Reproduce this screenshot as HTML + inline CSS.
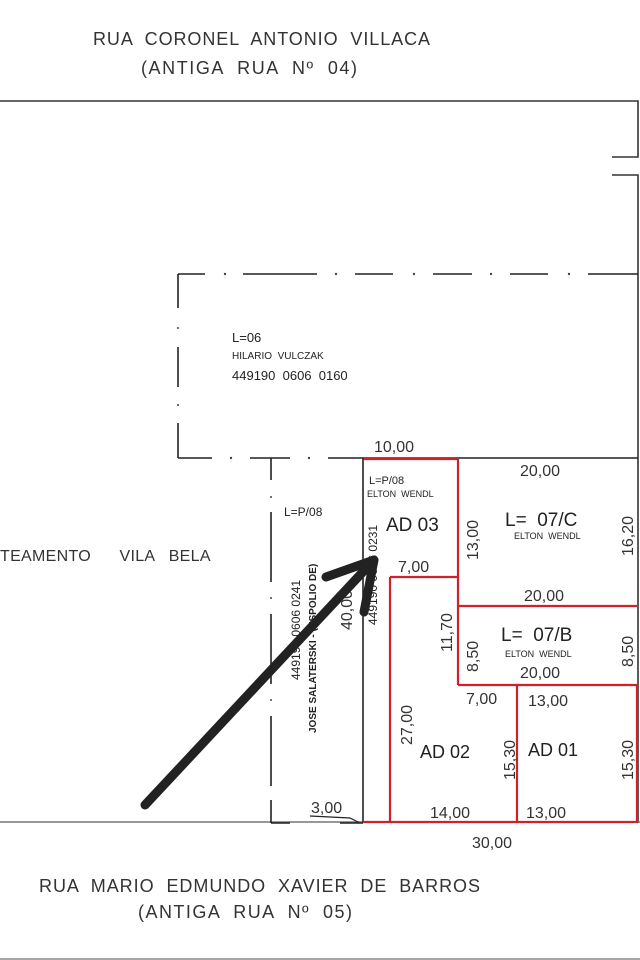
<!DOCTYPE html>
<html><head><meta charset="utf-8"><style>
html,body{margin:0;padding:0;background:#fff;width:640px;height:960px;overflow:hidden}
svg{display:block}
text{font-family:"Liberation Sans",sans-serif;fill:#222;white-space:pre}
.t{fill:#333}
</style></head><body>
<svg width="640" height="960" viewBox="0 0 640 960" xmlns="http://www.w3.org/2000/svg" xml:space="preserve">
<text x="93" y="45" font-size="18" class="t" textLength="337" lengthAdjust="spacing">RUA  CORONEL  ANTONIO  VILLACA</text>
<text x="141" y="74" font-size="18" class="t" textLength="216" lengthAdjust="spacing">(ANTIGA  RUA  Nº  04)</text>
<text x="39" y="892" font-size="18" class="t" textLength="441" lengthAdjust="spacing">RUA  MARIO  EDMUNDO  XAVIER  DE  BARROS</text>
<text x="138" y="918" font-size="18" class="t" textLength="214" lengthAdjust="spacing">(ANTIGA  RUA  Nº  05)</text>

<g stroke="#333" stroke-width="1.6" fill="none">
<polyline points="0,101 638,101 638,157 612,157"/>
<polyline points="612,175 638,175 638,823"/>
<line x1="0" y1="822" x2="640" y2="822" stroke="#777"/>
<line x1="0" y1="959" x2="640" y2="959" stroke="#888"/>
</g>
<g stroke="#222" stroke-width="1.6" fill="none">
<line x1="178" y1="274" x2="205" y2="274"/>
<line x1="243" y1="274" x2="317" y2="274"/>
<line x1="355" y1="274" x2="393" y2="274"/>
<line x1="433" y1="274" x2="472" y2="274"/>
<line x1="510" y1="274" x2="548" y2="274"/>
<line x1="588" y1="274" x2="638" y2="274"/>
<line x1="178" y1="274" x2="178" y2="308"/>
<line x1="178" y1="347" x2="178" y2="387"/>
<line x1="178" y1="423" x2="178" y2="458"/>
<line x1="178" y1="458" x2="212" y2="458"/>
<line x1="250" y1="458" x2="290" y2="458"/>
<line x1="328" y1="458" x2="638" y2="458"/>
<line x1="271" y1="458" x2="271" y2="480"/>
<line x1="271" y1="512" x2="271" y2="582"/>
<line x1="271" y1="614" x2="271" y2="684"/>
<line x1="271" y1="716" x2="271" y2="786"/>
<line x1="271" y1="800" x2="271" y2="823"/>
<line x1="271" y1="823" x2="290" y2="823"/>
<line x1="340" y1="823" x2="363" y2="823"/>
<line x1="363" y1="458" x2="363" y2="823"/>
</g>
<g fill="#444"><circle cx="225" cy="274" r="1.2"/><circle cx="336" cy="274" r="1.2"/><circle cx="414" cy="274" r="1.2"/><circle cx="491" cy="274" r="1.2"/><circle cx="569" cy="274" r="1.2"/><circle cx="178" cy="328" r="1"/><circle cx="178" cy="405" r="1"/><circle cx="231" cy="458" r="1.2"/><circle cx="309" cy="458" r="1.2"/><circle cx="271" cy="497" r="1"/><circle cx="271" cy="598" r="1"/><circle cx="271" cy="700" r="1"/></g>

<g stroke="#d0202a" stroke-width="2.2" fill="none">
<line x1="364" y1="459" x2="458" y2="459"/>
<line x1="458" y1="459" x2="458" y2="685"/>
<line x1="390" y1="577" x2="458" y2="577"/>
<line x1="390" y1="577" x2="390" y2="822"/>
<line x1="458" y1="606" x2="637" y2="606"/>
<line x1="458" y1="685" x2="637" y2="685"/>
<line x1="517" y1="685" x2="517" y2="822"/>
<line x1="637" y1="685" x2="637" y2="822"/>
<line x1="363" y1="822" x2="638" y2="822"/>
</g>

<text x="232" y="342" font-size="13">L=06</text>
<text x="232" y="359" font-size="10">HILARIO  VULCZAK</text>
<text x="232" y="380" font-size="13">449190  0606  0160</text>
<text x="374" y="452" font-size="16" class="t">10,00</text>

<text x="0" y="561" font-size="16" class="t" letter-spacing="0.3">TEAMENTO      VILA   BELA</text>
<text x="284" y="516" font-size="12">L=P/08</text>
<text transform="translate(300,680) rotate(-90)" font-size="12">449190 0606 0241</text>
<text transform="translate(316,733) rotate(-90)" font-size="10" font-weight="bold">JOSE SALATERSKI - (ESPOLIO DE)</text>
<text transform="translate(352,630) rotate(-90)" font-size="16" class="t">40,00</text>
<text x="311" y="813" font-size="16" class="t">3,00</text>
<path d="M310 816 L350 818 L360 823" stroke="#222" stroke-width="1.2" fill="none"/>

<text x="369" y="484" font-size="11">L=P/08</text>
<text x="367" y="497" font-size="9">ELTON  WENDL</text>
<text x="386" y="531" font-size="19">AD 03</text>
<text transform="translate(377,625) rotate(-90)" font-size="12">449190 0606 0231</text>
<text x="398" y="572" font-size="16" class="t">7,00</text>
<text transform="translate(478,560) rotate(-90)" font-size="16" class="t">13,00</text>
<text transform="translate(452,652) rotate(-90)" font-size="16" class="t">11,70</text>
<text transform="translate(412,745) rotate(-90)" font-size="16" class="t">27,00</text>

<text x="520" y="476" font-size="16" class="t">20,00</text>
<text x="505" y="526" font-size="19">L=  07/C</text>
<text x="514" y="539" font-size="9">ELTON  WENDL</text>
<text transform="translate(633,556) rotate(-90)" font-size="16" class="t">16,20</text>
<text x="524" y="601" font-size="16" class="t">20,00</text>

<text transform="translate(478,672) rotate(-90)" font-size="16" class="t">8,50</text>
<text x="501" y="641" font-size="19">L=  07/B</text>
<text x="505" y="657" font-size="9">ELTON  WENDL</text>
<text x="520" y="678" font-size="16" class="t">20,00</text>
<text transform="translate(633,667) rotate(-90)" font-size="16" class="t">8,50</text>

<text x="466" y="704" font-size="16" class="t">7,00</text>
<text x="528" y="706" font-size="16" class="t">13,00</text>
<text x="420" y="758" font-size="18">AD 02</text>
<text transform="translate(515,780) rotate(-90)" font-size="16" class="t">15,30</text>
<text x="528" y="756" font-size="18">AD 01</text>
<text transform="translate(633,780) rotate(-90)" font-size="16" class="t">15,30</text>
<text x="430" y="818" font-size="16" class="t">14,00</text>
<text x="526" y="818" font-size="16" class="t">13,00</text>
<text x="472" y="848" font-size="16" class="t">30,00</text>

<g stroke="#222" stroke-width="9" stroke-linecap="round" stroke-linejoin="round" fill="none">
<line x1="145" y1="805" x2="374" y2="560"/>
<polyline points="326,577 374,560 364,612"/>
</g>
</svg>
</body></html>
